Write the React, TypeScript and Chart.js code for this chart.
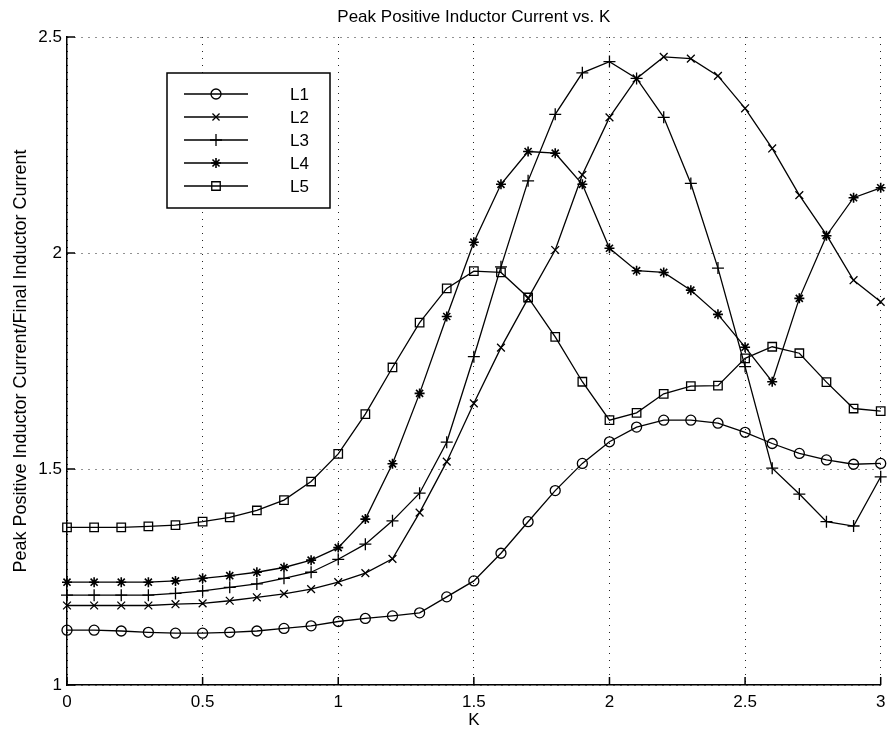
import React, { useEffect, useRef } from 'react';
import { Chart, registerables } from 'chart.js';
import { drawPoint } from 'chart.js/helpers';

Chart.register(...registerables);

const K = [0, 0.1, 0.2, 0.3, 0.4, 0.5, 0.6, 0.7, 0.8, 0.9, 1.0, 1.1, 1.2, 1.3, 1.4, 1.5, 1.6, 1.7, 1.8, 1.9, 2.0, 2.1, 2.2, 2.3, 2.4, 2.5, 2.6, 2.7, 2.8, 2.9, 3.0];

const L1 = [1.127, 1.127, 1.125, 1.122, 1.120, 1.120, 1.122, 1.125, 1.131, 1.137, 1.147, 1.154, 1.160, 1.167, 1.204, 1.241, 1.305, 1.378, 1.450, 1.513, 1.563, 1.597, 1.613, 1.613, 1.606, 1.585, 1.559, 1.536, 1.521, 1.511, 1.513];
const L2 = [1.184, 1.184, 1.184, 1.184, 1.187, 1.189, 1.195, 1.203, 1.211, 1.222, 1.238, 1.259, 1.292, 1.399, 1.517, 1.652, 1.781, 1.895, 2.007, 2.181, 2.314, 2.404, 2.454, 2.450, 2.410, 2.335, 2.242, 2.134, 2.042, 1.937, 1.887];
const L3 = [1.208, 1.208, 1.208, 1.208, 1.212, 1.218, 1.226, 1.234, 1.247, 1.261, 1.291, 1.326, 1.380, 1.444, 1.562, 1.760, 1.968, 2.167, 2.321, 2.417, 2.443, 2.404, 2.314, 2.161, 1.965, 1.737, 1.502, 1.442, 1.378, 1.368, 1.482];
const L4 = [1.238, 1.238, 1.238, 1.238, 1.241, 1.247, 1.253, 1.261, 1.272, 1.289, 1.318, 1.384, 1.512, 1.675, 1.853, 2.025, 2.159, 2.235, 2.231, 2.159, 2.011, 1.959, 1.955, 1.914, 1.858, 1.782, 1.702, 1.895, 2.040, 2.128, 2.151];
const L5 = [1.365, 1.365, 1.365, 1.367, 1.370, 1.378, 1.388, 1.404, 1.428, 1.471, 1.535, 1.627, 1.735, 1.839, 1.918, 1.958, 1.955, 1.897, 1.806, 1.702, 1.613, 1.630, 1.674, 1.692, 1.693, 1.756, 1.783, 1.768, 1.701, 1.640, 1.634];

const SERIES_NAMES = ['L1', 'L2', 'L3', 'L4', 'L5'];
const SERIES_VALUES = [L1, L2, L3, L4, L5];
const MARKERS = ['circle', 'crossRot', 'cross', 'star', 'rect'];
const MARKER_RADII = [5, 5.5, 6, 5, 6];
const LEGEND_RADII = [5, 5, 6, 5, 6];

const TITLE = 'Peak Positive Inductor Current vs. K';
const X_TITLE = 'K';
const Y_TITLE = 'Peak Positive Inductor Current/Final Inductor Current';

const FONT = '"Liberation Sans", Arial, Helvetica, sans-serif';

const fmt = (v: any) => String(Math.round(Number(v) * 10) / 10);

export default function App() {
  const ref = useRef<HTMLCanvasElement>(null);

  useEffect(() => {
    document.body.style.margin = '0';
    document.body.style.background = '#fff';
    const canvas = ref.current!;
    Chart.defaults.font.family = FONT;
    Chart.defaults.color = '#000';

    const datasets = SERIES_NAMES.map((name, i) => ({
      label: name,
      data: K.map((k, j) => ({ x: k, y: SERIES_VALUES[i][j] })),
      borderColor: '#000',
      borderWidth: 1.3,
      pointStyle: MARKERS[i] as any,
      pointRadius: MARKER_RADII[i],
      pointHoverRadius: MARKER_RADII[i],
      pointBorderColor: '#000',
      pointBackgroundColor: 'rgba(0,0,0,0)',
      pointBorderWidth: i === 3 ? 1.6 : 1.3,
      tension: 0,
      clip: false as any,
      fill: false,
    }));

    const overlay = {
      id: 'overlay',
      afterDraw(chart: any) {
        const c = chart.ctx;
        const area = chart.chartArea;
        const xs = chart.scales.x;
        const ys = chart.scales.y;
        c.save();
        // inward tick marks
        c.strokeStyle = '#000';
        c.lineWidth = 1.5;
        c.beginPath();
        xs.ticks.forEach((t: any) => {
          const px = xs.getPixelForValue(t.value);
          c.moveTo(px, area.bottom);
          c.lineTo(px, area.bottom - 8);
        });
        ys.ticks.forEach((t: any) => {
          const py = ys.getPixelForValue(t.value);
          c.moveTo(area.left, py);
          c.lineTo(area.left + 8, py);
        });
        c.stroke();

        // title
        c.fillStyle = '#000';
        c.font = `17px ${FONT}`;
        c.textAlign = 'center';
        c.textBaseline = 'middle';
        c.fillText(TITLE, (area.left + area.right) / 2, 17);

        // legend box
        const bx = 167, by = 73, bw = 163, bh = 135;
        c.fillStyle = '#fff';
        c.fillRect(bx, by, bw, bh);
        c.lineWidth = 1.5;
        c.strokeStyle = '#000';
        c.strokeRect(bx, by, bw, bh);
        const rows = [94, 117, 140, 163, 186];
        SERIES_NAMES.forEach((name, i) => {
          const y = rows[i];
          c.lineWidth = 1.3;
          c.beginPath();
          c.moveTo(184, y);
          c.lineTo(248, y);
          c.stroke();
          c.lineWidth = i === 3 ? 1.6 : 1.3;
          c.fillStyle = 'rgba(0,0,0,0)';
          drawPoint(c, { pointStyle: MARKERS[i] as any, radius: LEGEND_RADII[i], rotation: 0, borderWidth: 1.3 } as any, 216, y);
          c.fillStyle = '#000';
          c.font = `17px ${FONT}`;
          c.textAlign = 'left';
          c.textBaseline = 'middle';
          c.fillText(name, 290, y + 1);
        });
        c.restore();
      },
    };

    const chart = new Chart(canvas, {
      type: 'line',
      data: { datasets },
      options: {
        animation: false,
        responsive: false,
        maintainAspectRatio: false,
        layout: { padding: { top: 37, right: 5, left: 0, bottom: 0 } },
        plugins: {
          legend: { display: false },
          title: { display: false },
          tooltip: { enabled: false },
        },
        scales: {
          x: {
            type: 'linear',
            min: 0,
            max: 3,
            ticks: {
              stepSize: 0.5,
              padding: 7,
              maxRotation: 0,
              autoSkip: false,
              color: '#000',
              font: { size: 17, family: FONT },
              callback: (v: any) => fmt(v),
            },
            grid: { color: '#222', lineWidth: 1, drawTicks: false },
            border: { display: true, color: '#000', width: 1.5, dash: [1, 6] },
            title: {
              display: true,
              text: X_TITLE,
              color: '#000',
              font: { size: 17, family: FONT, lineHeight: 1 },
              padding: { top: 0, bottom: 0 },
            },
            afterFit(scale: any) {
              scale.height = 44;
              scale.paddingLeft = 0;
              scale.paddingRight = 0;
            },
          },
          y: {
            type: 'linear',
            min: 1,
            max: 2.5,
            ticks: {
              stepSize: 0.5,
              padding: 5,
              color: '#000',
              font: { size: 17, family: FONT },
              callback: (v: any) => fmt(v),
            },
            grid: { color: '#222', lineWidth: 1, drawTicks: false },
            border: { display: true, color: '#000', width: 1.5, dash: [1, 6] },
            title: {
              display: true,
              text: Y_TITLE,
              color: '#000',
              font: { size: 18, family: FONT, lineHeight: 1 },
              padding: { top: 12, bottom: 0 },
            },
            afterFit(scale: any) {
              scale.width = 67;
              scale.paddingTop = 0;
              scale.paddingBottom = 0;
            },
          },
        },
      },
      plugins: [overlay],
    });

    return () => chart.destroy();
  }, []);

  return <canvas ref={ref} width={888} height={729} style={{ display: 'block', width: 888, height: 729 }} />;
}
